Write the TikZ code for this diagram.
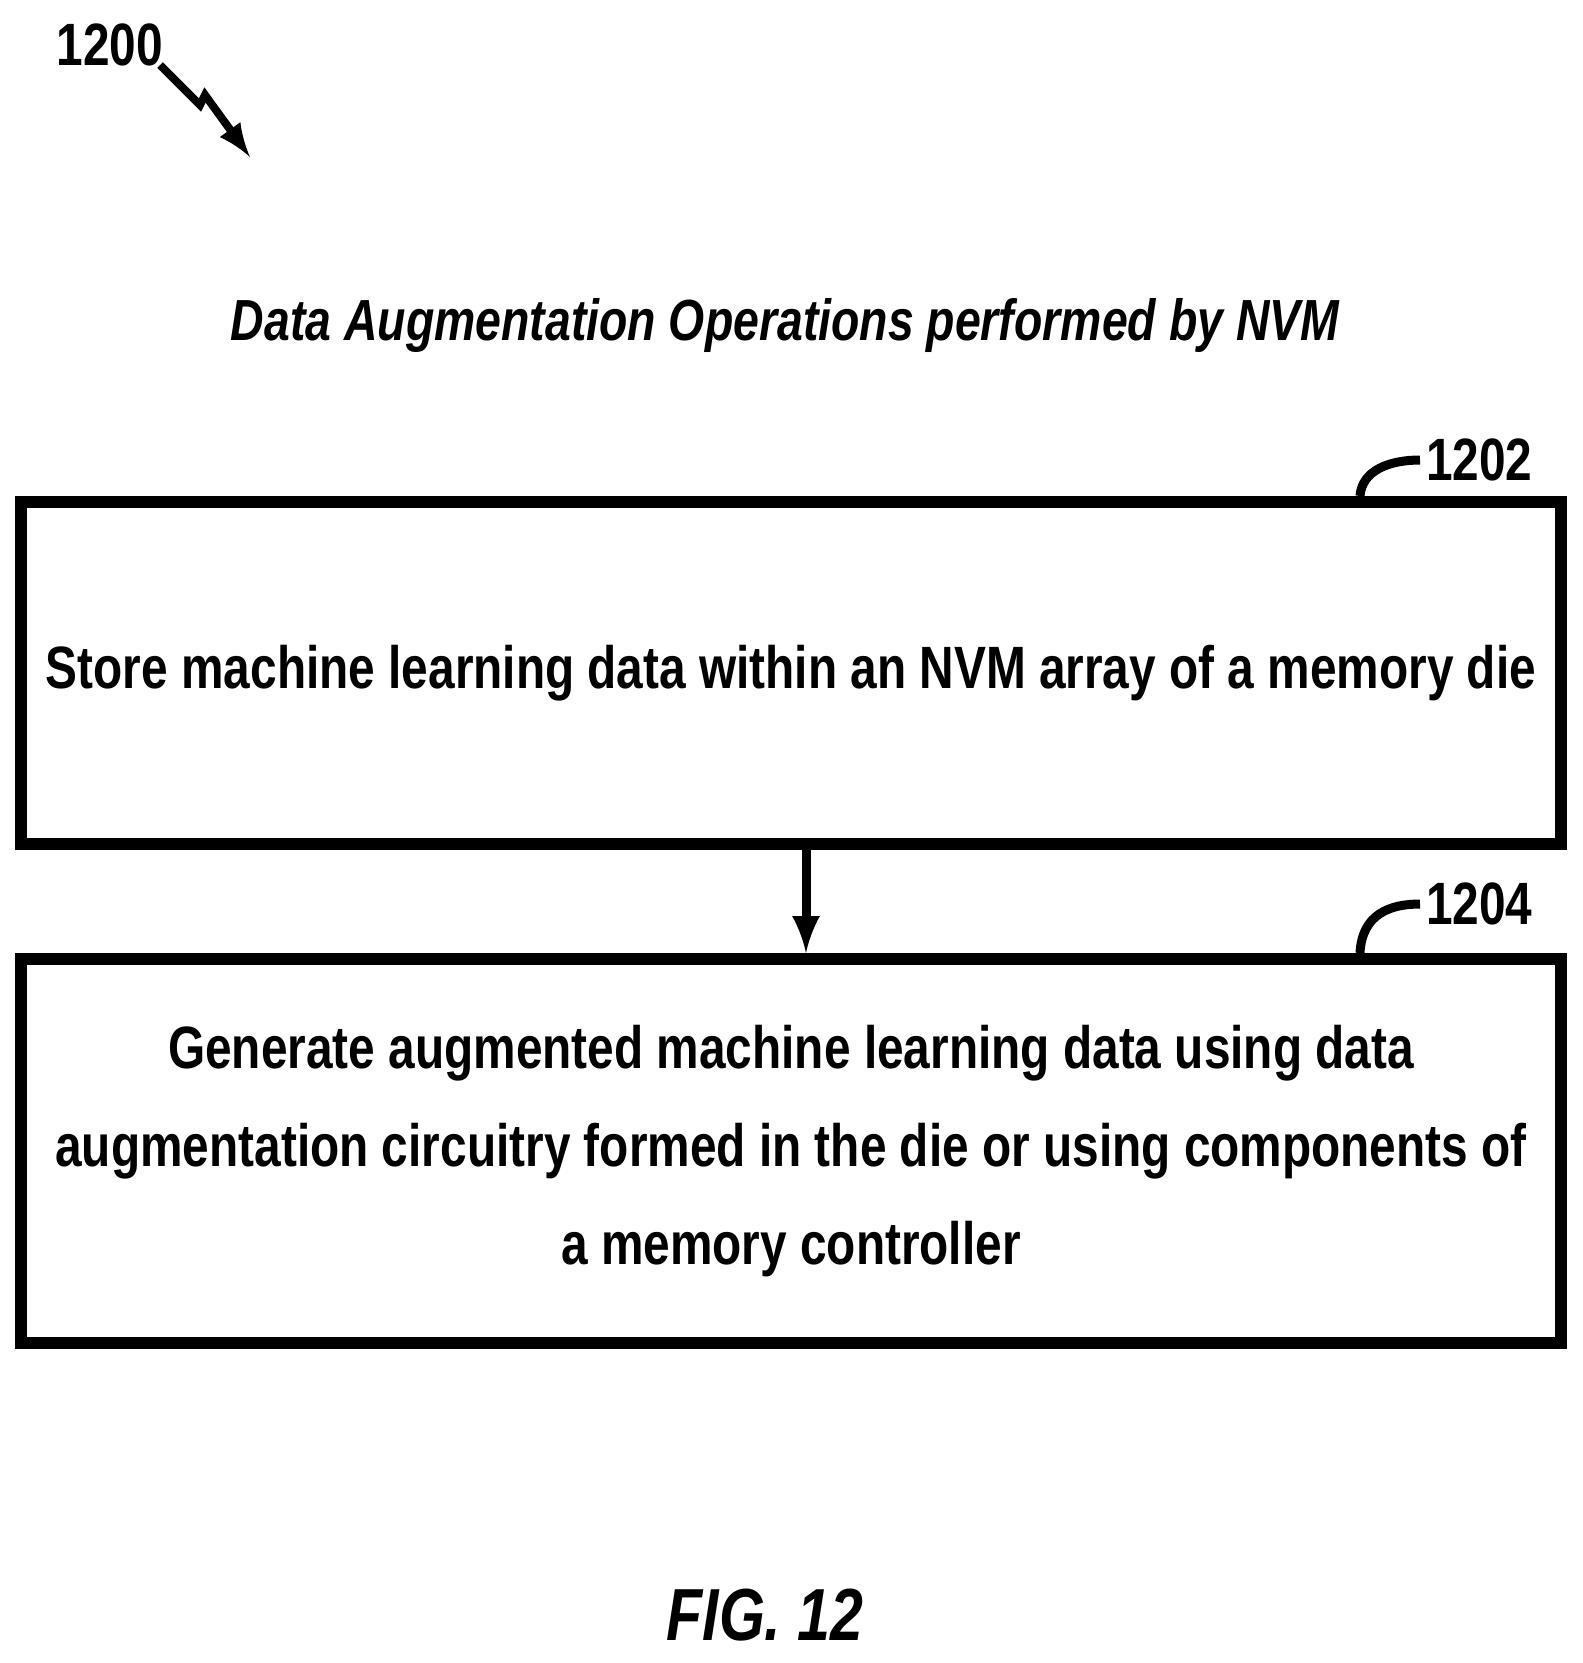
\documentclass[tikz,border=0pt]{standalone}
\usepackage{fontspec}
\setmainfont{Liberation Sans}[FakeStretch=0.80]
\usepackage{tikz}
\begin{document}
\begin{tikzpicture}[x=0.1mm, y=-0.1mm, line width=1.2mm,
	flowstep/.style = {draw, minimum width=154mm, minimum height=34.2mm, align=center,
		font=\fontsize{17}{24}\selectfont\bfseries, inner sep=0},
	refnum/.style = {font=\fontsize{17}{20}\selectfont\bfseries, anchor=west, inner sep=0}]
	\useasboundingbox (0,0) rectangle (1582,1663);
	% figure number
	\node (fignum) at (110,45) {\fontsize{17}{20}\selectfont\bfseries 1200};
	\draw [line width=0.8mm, -latex] (160,65) -- (200,105) -- (205,95) -- (250,157);
	\node (title) at (785,325) {\fontsize{16.5}{20}\selectfont\bfseries\itshape Data Augmentation Operations performed by NVM};
	% steps
	\node [flowstep] (s1) at (791,673) {Store machine learning data within an NVM array of a memory die};
	\node [flowstep, minimum height=38.4mm] (s2) at (791,1151) {Generate augmented machine learning data using data\\[4pt] augmentation circuitry formed in the die or using components of\\[4pt] a memory controller};
	\draw [-latex, line width=0.9mm] (s1.south -| 806,0) -- (s2.north -| 806,0);
	% reference labels
	\node [refnum] (r1) at (1420,460) {1202};
	\node [refnum] (r2) at (1420,904) {1204};
	\draw [line width=0.9mm] (s1.north -| 1360,0) .. controls (1362,470) and (1390,460) .. (r1.west);
	\draw [line width=0.9mm] (s2.north -| 1360,0) .. controls (1362,914) and (1390,904) .. (r2.west);
	\node (fig) at (765,1615) {\fontsize{21}{26}\selectfont\bfseries\itshape FIG. 12};
\end{tikzpicture}
\end{document}
